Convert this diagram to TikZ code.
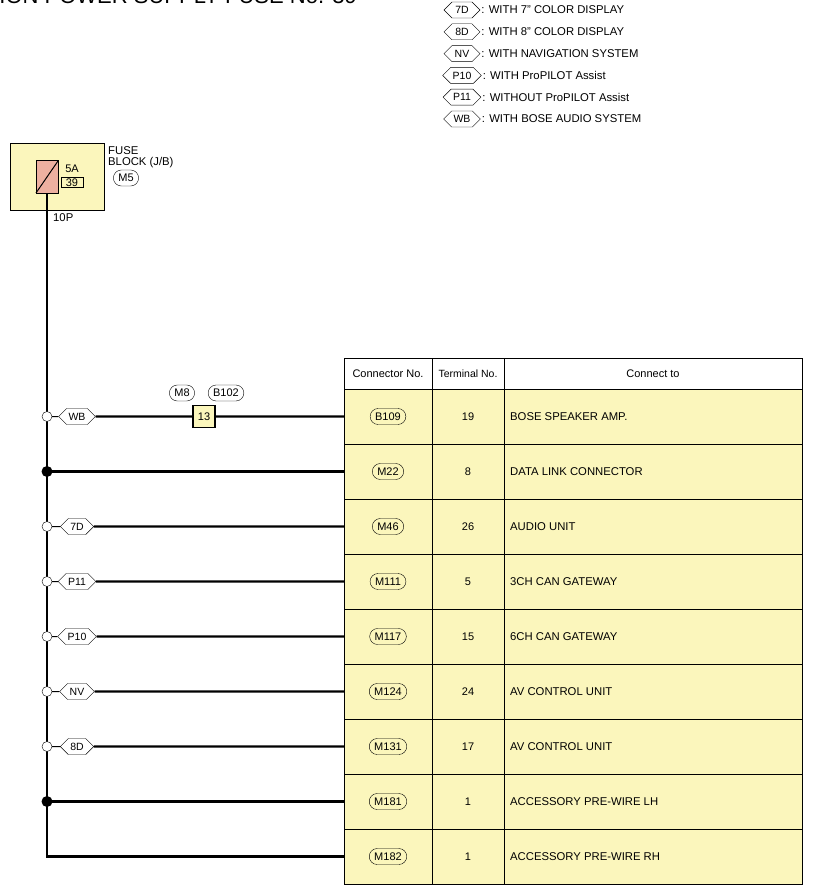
\documentclass[tikz,border=0pt]{standalone}
\usepackage{fontspec}
\setmainfont{Liberation Sans}
\usetikzlibrary{shapes.symbols}
\definecolor{jbyel}{HTML}{FBF6BC}
\definecolor{fusered}{HTML}{EDB0A0}
\tikzset{
  wire/.style={line width=2.2pt},
  tag/.style={signal, signal to=west and east, draw, fill=white, font=\fontsize{10.5}{10.5}\selectfont,
    inner xsep=2pt, inner ysep=2pt, minimum height=16pt},
  pill/.style={draw, rounded corners=8pt, font=\fontsize{11}{11}\selectfont, inner xsep=5pt, inner ysep=3pt,
    minimum height=16pt, fill=white},
  txt/.style={font=\fontsize{11.3}{11.5}\selectfont, anchor=west, inner sep=0pt},
  opendot/.style={draw, fill=white, circle, inner sep=0pt, minimum size=10pt},
  fulldot/.style={fill=black, circle, inner sep=0pt, minimum size=11pt}
}
\begin{document}
\begin{tikzpicture}[x=1pt,y=-1pt]
\useasboundingbox (0,0) rectangle (813,896);
% title (cut at the top)
\node[anchor=east, font=\fontsize{22}{22}\selectfont, inner sep=0pt] (title) at (357,-4) {IGNITION POWER SUPPLY FUSE No. 39};

% legend
\foreach \t/\s [count=\i] in {7D/WITH 7" COLOR DISPLAY, 8D/WITH 8" COLOR DISPLAY, NV/WITH NAVIGATION SYSTEM,
  P10/WITH ProPILOT Assist, P11/WITHOUT ProPILOT Assist, WB/WITH BOSE AUDIO SYSTEM}{
  \node[tag, minimum width=36pt] (lg\i) at (462,{10+21.8*(\i-1)}) {\t};
  \node[txt] (lt\i) at ([xshift=1pt]lg\i.east) {: \s};
}

% fuse block
\draw[fill=jbyel, line width=1pt] (10,144) rectangle (104,210);
\draw[fill=fusered, line width=1pt] (36,161) rectangle (58,193);
\draw[line width=1pt] (36,193) -- (58,161);
\node[font=\fontsize{11}{11}\selectfont] (amp) at (72,169) {5A};
\node[draw, font=\fontsize{11}{11}\selectfont, inner sep=1pt, minimum width=22pt] (fno) at (72,182.5) {39};
\node[txt, align=left, anchor=north west] (fb) at (108,146) {FUSE\\BLOCK (J/B)};
\node[pill] (m5) at (126,178) {M5};
\node[txt] (tp) at (53,218) {10P};

% table
\draw[fill=jbyel] (344,389) rectangle (802,884);
\draw (344,358) rectangle (802,389);
\draw (432,358) -- (432,884) (504,358) -- (504,884);
\foreach \y in {444,499,...,829} \draw (344,\y) -- (802,\y);
\node[font=\fontsize{11}{11}\selectfont] (h1) at (388,374) {Connector No.};
\node[font=\fontsize{10.5}{11}\selectfont] (h2) at (468,374) {Terminal No.};
\node[font=\fontsize{11}{11}\selectfont] (h3) at (653,374) {Connect to};

% trunk
\coordinate (top) at (47,193);
\coordinate (bot) at (47,856.5);
\draw[wire] (top) -- (bot) -- (344,856.5);

\foreach \c/\n/\d/\o [count=\i] in {B109/19/BOSE SPEAKER AMP./WB, M22/8/DATA LINK CONNECTOR/-,
  M46/26/AUDIO UNIT/7D, M111/5/3CH CAN GATEWAY/P11, M117/15/6CH CAN GATEWAY/P10,
  M124/24/AV CONTROL UNIT/NV, M131/17/AV CONTROL UNIT/8D, M181/1/ACCESSORY PRE-WIRE LH/-,
  M182/1/ACCESSORY PRE-WIRE RH/-}{
  \pgfmathsetmacro\yy{416.5+55*(\i-1)}
  \node[pill, fill=jbyel] (c\i) at (388,\yy) {\c};
  \node[font=\fontsize{11}{11}\selectfont] (n\i) at (468,\yy) {\n};
  \node[txt] (d\i) at (510,\yy) {\d};
  \ifnum\i<9
    \if-\o
      \node[fulldot] (j\i) at (47,\yy) {};
      \draw[line width=2.2pt] (j\i.center) -- (344,\yy);
    \else
      \node[opendot] (j\i) at (47,\yy) {};
      \node[tag, minimum width=32pt] (o\i) at (77,\yy) {\o};
      \draw[wire] (o\i) -- (344,\yy);
      \draw[line width=1pt] (j\i) -- (o\i);
    \fi
  \fi
}
% in-line connector on the first branch
\node[draw, fill=jbyel, line width=1.2pt, minimum size=22pt, inner sep=0pt, font=\fontsize{11}{11}\selectfont] (jc) at (204,416.5) {13};
\node[pill] (m8) at (182,393) {M8};
\node[pill] (b102) at (226,393) {B102};
\end{tikzpicture}
\end{document}
